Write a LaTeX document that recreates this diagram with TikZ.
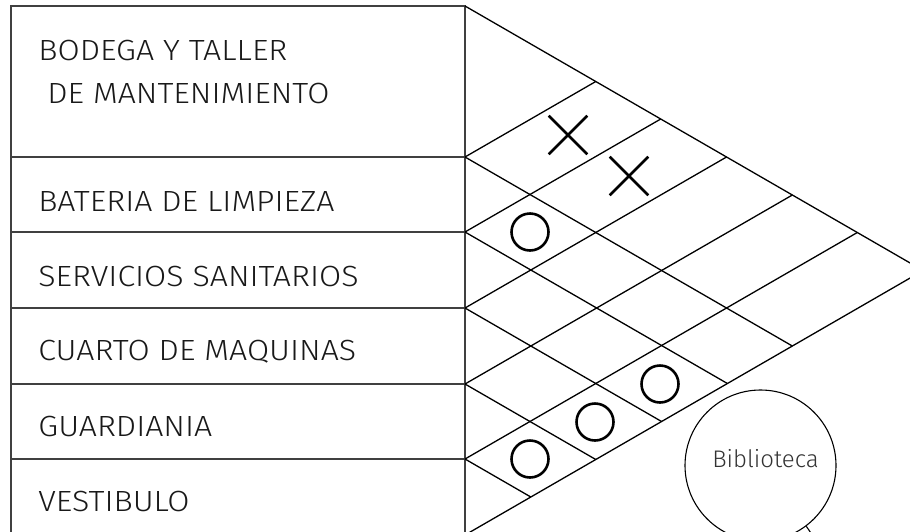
\documentclass[tikz,border=0pt]{standalone}
\usepackage{fontspec}
\setmainfont{Fira Sans}[UprightFont=* Light]
\newfontfamily\labelfont{Fira Sans}[UprightFont=* Light,FakeStretch=1.1]
\usetikzlibrary{shapes.misc}
\begin{document}
\begin{tikzpicture}[x=0.5pt,y=-0.5pt,
  gridline/.style={line width=0.65pt,black},
  frame/.style={line width=0.85pt,black!75},
  xmark/.style={draw,cross out,minimum size=18pt,inner sep=0pt,line width=1.3pt},
  omark/.style={draw,circle,minimum size=18.5pt,inner sep=0pt,line width=1.3pt},
  lbl/.style={anchor=base west,inner sep=0pt,font=\labelfont\fontsize{14.6}{17}\selectfont,text=black!90},
]
\useasboundingbox (0,0) rectangle (910,531);
\clip (0,0) rectangle (910,531);
% frame of the list
\coordinate (TL) at (11,6);
\coordinate (TR) at (465,6);
\coordinate (BL) at (11,545);
\coordinate (BR) at (465,545);
\draw[frame] (BL) -- (TL) -- (TR) -- (BR);
\foreach \y [count=\k] in {157,232,308,384,459} {
  \coordinate (A\k) at (11,\y);
  \coordinate (B\k) at (465,\y);
  \draw[frame] (A\k) -- (B\k);
}
% lattice points on the right edge of the list
\foreach \y [count=\k from 0] in {6,157,232,308,384,459,535} {
  \coordinate (P\k) at (465,\y);
}
% lines going down-right
\foreach \y [count=\k from 0] in {6,157,232,308,384,459} {
  \pgfmathsetmacro\ex{465+0.866*(535-\y)}
  \pgfmathsetmacro\ey{(\y+535)/2}
  \coordinate (D\k) at (\ex,\ey);
  \draw[gridline] (P\k) -- (D\k);
}
% lines going up-right
\foreach \y [count=\k from 1] in {157,232,308,384,459,535} {
  \pgfmathsetmacro\ex{465+0.866*(\y-6)}
  \pgfmathsetmacro\ey{(\y+6)/2}
  \coordinate (U\k) at (\ex,\ey);
  \draw[gridline] (P\k) -- (U\k);
}
% labels
\node[lbl] (t1a) at (38,60) {BODEGA Y TALLER};
\node[lbl] (t1b) at (47,103) {DE MANTENIMIENTO};
\node[lbl] (t2) at (38,211) {BATERIA DE LIMPIEZA};
\node[lbl] (t3) at (38,286) {SERVICIOS SANITARIOS};
\node[lbl] (t4) at (38,360) {CUARTO DE MAQUINAS};
\node[lbl] (t5) at (38,436) {GUARDIANIA};
\node[lbl] (t6) at (38,511) {VESTIBULO};
% marks
\node[xmark] (x1) at (568,135) {};
\node[xmark] (x2) at (629,176) {};
\node[omark] (o1) at (530,232) {};
\node[omark] (o2) at (660,384) {};
\node[omark] (o3) at (595,422) {};
\node[omark] (o4) at (530,459) {};
% Biblioteca
\node[draw,circle,minimum size=75.5pt,inner sep=0pt,line width=0.55pt] (bib) at (760.5,465.5) {};
\node[anchor=base,inner sep=0pt,font=\fontsize{12}{14}\selectfont,text=black!80] (bibtxt) at (765.5,467) {Biblioteca};
\coordinate (bibexit) at (813,536);
\draw[line width=0.55pt] (bib.-53) -- (bibexit);
\end{tikzpicture}
\end{document}
